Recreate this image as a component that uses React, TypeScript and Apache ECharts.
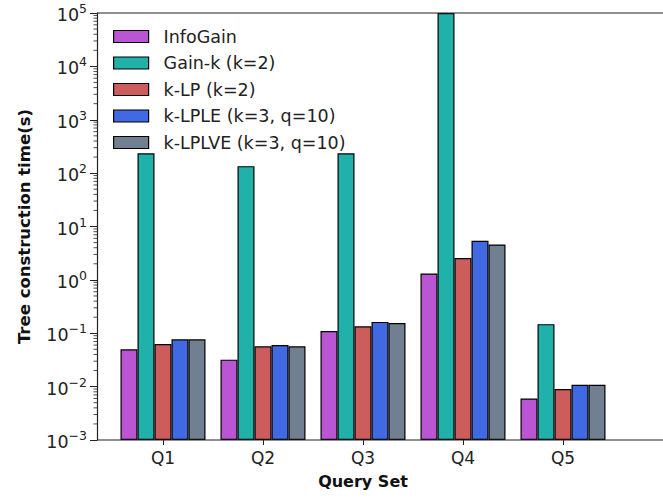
import React, { useEffect, useRef } from "react";
import * as echarts from "echarts";

const categories = ["Q1", "Q2", "Q3", "Q4", "Q5"];
const seriesNames = [
  "InfoGain",
  "Gain-k (k=2)",
  "k-LP (k=2)",
  "k-LPLE (k=3, q=10)",
  "k-LPLVE (k=3, q=10)",
];
const infoGain = [0.05, 0.032, 0.11, 1.32, 0.006];
const gainK = [235, 135, 235, 100000, 0.148];
const kLP = [0.063, 0.057, 0.135, 2.57, 0.009];
const kLPLE = [0.077, 0.06, 0.163, 5.4, 0.0108];
const kLPLVE = [0.077, 0.057, 0.155, 4.6, 0.0108];
const seriesValues = [infoGain, gainK, kLP, kLPLE, kLPLVE];
const colors = ["#BA55D3", "#20B2AA", "#CD5C5C", "#4169E1", "#708090"];
const yMin = 0.001;
const yMax = 100000;
const minorMultipliers = [2, 3, 4, 5, 6, 7, 8, 9];

const minorTickValues: number[] = [];
for (let e = -3; e < 5; e++) {
  for (const m of minorMultipliers) minorTickValues.push(m * Math.pow(10, e));
}

export default function App() {
  const ref = useRef<HTMLDivElement>(null);
  useEffect(() => {
    if (!ref.current) return;
    const chart = echarts.init(ref.current, null, { renderer: "svg" });
    const axisColor = "#222";
    const gridLeft = 113;
    const gridTop = 13;
    const gridBottomY = 440;
    const spineX = 97;
    const font = "DejaVu Sans";
    chart.setOption({
      animation: false,
      textStyle: { fontFamily: font, color: "#222" },
      grid: { left: gridLeft, top: gridTop, width: 500, height: gridBottomY - gridTop },
      legend: {
        data: seriesNames,
        orient: "vertical",
        left: 113,
        top: 27.5,
        padding: 0,
        itemWidth: 35,
        itemHeight: 12,
        itemGap: 8.5,
        icon: "rect",
        textStyle: { fontSize: 17.5, fontFamily: font, color: "#222", lineHeight: 16, padding: [0, 0, 0, 10] },
        itemStyle: { borderColor: "#000", borderWidth: 1.2 },
      },
      xAxis: {
        type: "category",
        data: categories,
        axisLine: { show: false },
        axisTick: { show: true, alignWithLabel: true, length: 5, lineStyle: { color: axisColor, width: 1 } },
        axisLabel: { fontSize: 17, color: "#222", margin: 9, fontFamily: font },
        name: "Query Set",
        nameLocation: "middle",
        nameGap: 33,
        nameTextStyle: { fontSize: 16, fontWeight: "bold", color: "#111", fontFamily: font },
      },
      yAxis: {
        type: "log",
        logBase: 10,
        min: yMin,
        max: yMax,
        startValue: yMin,
        offset: gridLeft - spineX,
        splitLine: { show: false },
        axisLine: { show: true, lineStyle: { color: axisColor, width: 1.2 } },
        axisTick: { show: true, length: 7, lineStyle: { color: axisColor, width: 1 } },
        axisLabel: {
          margin: 10,
          fontFamily: font,
          formatter: (v: number) => {
            const e = Math.round(Math.log10(v));
            const s = e < 0 ? "\u2212" + Math.abs(e) : String(e);
            return "{b|10}{s|" + s + "}";
          },
          rich: {
            b: { fontSize: 17.5, color: "#222", fontFamily: font, verticalAlign: "bottom", lineHeight: 22 },
            s: { fontSize: 12.5, color: "#222", fontFamily: font, verticalAlign: "top", lineHeight: 22, padding: [0, 0, 10, 0] },
          },
        },
        name: "Tree construction time(s)",
        nameLocation: "middle",
        nameGap: 64,
        nameTextStyle: { fontSize: 16.5, fontWeight: "bold", color: "#111", fontFamily: font },
      },
      graphic: [
        { type: "line", shape: { x1: spineX, y1: gridTop, x2: 663, y2: gridTop }, style: { stroke: axisColor, lineWidth: 1.2 }, z: 10 },
        { type: "line", shape: { x1: spineX, y1: gridBottomY, x2: 663, y2: gridBottomY }, style: { stroke: axisColor, lineWidth: 1.2 }, z: 10 },
      ],
      series: [
        ...seriesNames.map((name, i) => ({
          name,
          type: "bar",
          data: seriesValues[i],
          barGap: "0%",
          barCategoryGap: "15%",
          itemStyle: { color: colors[i], borderColor: "#000", borderWidth: 1.2 },
          emphasis: { disabled: true },
        })),
        {
          type: "custom",
          silent: true,
          data: minorTickValues.map((v) => [0, v]),
          encode: { x: 0, y: 1 },
          renderItem: (params: any, api: any) => {
            const pt = api.coord([0, api.value(1)]);
            const x = params.coordSys.x - (gridLeft - spineX);
            return {
              type: "line",
              shape: { x1: x - 3.5, y1: pt[1], x2: x, y2: pt[1] },
              style: { stroke: axisColor, lineWidth: 0.8 },
            };
          },
        },
      ],
    });
    return () => chart.dispose();
  }, []);
  return <div ref={ref} style={{ position: "absolute", left: 0, top: 0, width: 663, height: 498, background: "#fff" }} />;
}
